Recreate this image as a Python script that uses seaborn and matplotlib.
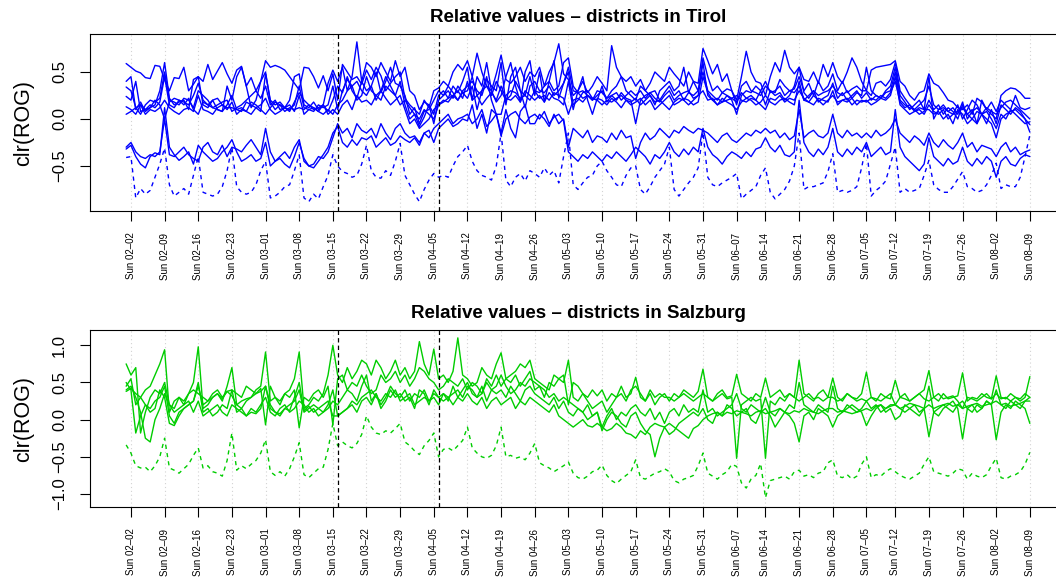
import numpy as np
import pandas as pd
import matplotlib
matplotlib.use("Agg")
import matplotlib.pyplot as plt
import seaborn as sns

# ---------------- data ----------------
first_day = "2020-02-01"
last_day = "2020-08-09"
missing_days = ["2020-06-11", "2020-07-08"]
lockdown_days = ["2020-03-16", "2020-04-06"]

titles = ["Relative values \u2013 districts in Tirol",
          "Relative values \u2013 districts in Salzburg"]
y_label = "clr(ROG)"
tirol_yticks = [-0.5, 0.0, 0.5]
tirol_yticklabels = ["\u22120.5", "0.0", "0.5"]
salzburg_yticks = [-1.0, -0.5, 0.0, 0.5, 1.0]
salzburg_yticklabels = ["\u22121.0", "\u22120.5", "0.0", "0.5", "1.0"]

# values in hundredths of clr units, one line per week (Sun..Sat)
tirol_1 = [59,
 55, 51, 49, 44, 43, 57, 56,
 42, 30, 44, 43, 55, 30, 37,
 45, 40, 58, 42, 51, 60, 48,
 38, 52, 56, 35, 44, 30, 40,
 62, 55, 57, 55, 52, 45, 38,
 31, 55, 54, 45, 33, 46, 30,
 48, 20, 58, 50, 42, 45, 37,
 52, 42, 55, 46, 30, 38, 45,
 50, 22, 15, 10, 5, 20, 12,
 30, 33, 40, 35, 50, 58, 52,
 62, 45, 70, 50, 35, 30, 48,
 68, 42, 38, 45, 55, 40, 50,
 45, 55, 35, 50, 60, 80, 48,
 42, 25, 30, 40, 28, 35, 45,
 38, 30, 78, 55, 45, 40, 45,
 35, 42, 30, 38, 50, 45, 40,
 55, 48, 42, 35, 50, 40, 38,
 75, 62, 48, 58, 40, 48, 30,
 20, 45, 72, 50, 40, 38,
 25, 45, 60, 50, 73, 55, 48,
 55, 42, 40, 50, 38, 58, 45,
 60, 45, 38, 50, 65, 55, 40,
 30, 52, 55, 56, 57, 58,
 62, 40, 35, 25, 20, 28, 30,
 48, 38, 35, 28, 20, 18, 12,
 10, 15, 5, 22, 18, 10, 5,
 0, 25, 30, 33, 32, 28, 22,
 22]
tirol_2 = [40,
 45, 10, 18, 8, 12, 15, 30,
 60, 22, 15, 18, 20, 10, 42,
 45, 15, 12, 20, 10, 8, 35,
 20, 45, 55, 35, 12, 20, 40,
 50, 18, 10, 15, 12, 20, 45,
 48, 15, 12, 18, 10, 15, 38,
 52, 40, 55, 30, 45, 82, 40,
 60, 55, 45, 60, 50, 40, 62,
 45, 55, 30, 25, 10, 18, 15,
 5, 25, 30, 22, 35, 28, 40,
 55, 20, 45, 35, 60, 30, 18,
 25, 45, 60, 35, 18, 50, 62,
 30, 28, 35, 40, 30, 35, 60,
 65, 35, 28, 30, 25, 20, 30,
 28, 22, 30, 35, 45, 30, 25,
 20, 35, 30, 25, 15, 30, 35,
 40, 30, 35, 55, 28, 40, 30,
 65, 45, 30, 35, 28, 32, 30,
 15, 35, 40, 30, 28, 25,
 35, 30, 28, 42, 35, 30, 32,
 45, 30, 38, 25, 40, 30, 35,
 48, 30, 40, 28, 32, 35, 30,
 30, 25, 38, 40, 35, 42,
 60, 30, 22, 15, 10, 5, 8,
 20, 10, 15, 5, 12, 8, 0,
 15, 5, 10, -5, 20, 10, 18,
 8, 20, 15, 10, 25, 12, 10,
 12]
tirol_3 = [34,
 30, 12, 5, 15, 20, 18, 22,
 50, 20, 18, 15, 22, 20, 12,
 30, 25, 20, 12, 15, 18, 20,
 8, 12, 15, 20, 25, 30, 22,
 35, 15, 20, 10, 12, 8, 18,
 28, 20, 15, 10, 12, 15, 8,
 20, 35, 28, 45, 30, 22, 40,
 30, 35, 50, 28, 40, 55, 38,
 35, 25, 5, 12, -5, 8, 10,
 20, 30, 25, 35, 28, 20, 30,
 35, 40, 30, 25, 42, 35, 30,
 60, 15, 45, 55, 30, 12, 35,
 40, 30, 28, 35, 25, 30, 38,
 55, 30, 28, 22, 25, 20, 25,
 30, 22, 25, 28, 20, 25, 30,
 25, 30, 22, 28, 30, 20, 28,
 35, 25, 30, 20, 28, 25, 30,
 50, 30, 25, 20, 28, 25, 22,
 18, 28, 22, 25, 20, 30,
 15, 30, 25, 28, 20, 25, 35,
 55, 28, 22, 30, 25, 28, 30,
 35, 28, 25, 30, 22, 28, 25,
 55, 30, 25, 22, 28, 30,
 50, 20, 15, 12, 10, 15, 20,
 35, 15, 10, 12, 8, 5, 15,
 0, 10, 20, 15, 5, 12, 8,
 5, 12, 18, 20, 15, 10, 5,
 0]
tirol_4 = [24,
 20, 40, 8, 10, 15, 12, 18,
 45, 15, 12, 20, 18, 15, 25,
 38, 20, 15, 12, 10, 8, 15,
 25, 10, 8, 18, 15, 12, 8,
 48, 20, 15, 18, 12, 10, 15,
 35, 12, 10, 8, 15, 12, 15,
 35, 10, 30, 42, 35, 20, 25,
 45, 30, 25, 20, 35, 30, 25,
 40, 15, 0, 5, -8, 2, 15,
 -5, 20, 25, 30, 22, 35, 28,
 30, 45, 25, 30, 35, 25, 40,
 30, 20, 25, 40, 30, 25, 45,
 25, 50, 18, 40, 62, 22, 38,
 50, 15, 20, 28, 30, 22, 20,
 35, 18, 25, 20, 28, 22, 20,
 -5, 20, 25, 28, 22, 18, 25,
 30, 20, 25, 28, 30, 22, 25,
 60, 25, 20, 22, 18, 25, 20,
 5, 25, 30, 28, 35, 30,
 40, 28, 30, 35, 25, 30, 28,
 35, 20, 25, 30, 18, 22, 25,
 38, 22, 28, 20, 25, 30, 22,
 28, 20, 25, 22, 30, 35,
 55, 25, 18, 10, 15, 20, 10,
 45, 0, 10, 15, 8, 12, 5,
 18, 0, 8, 12, 5, -5, 10,
 -5, 15, 10, 5, 12, 8, 0,
 -6]
tirol_5 = [13,
 10, 5, 15, 10, 12, 20, 15,
 0, 18, 22, 20, 15, 22, 10,
 5, 18, 15, 20, 22, 15, 12,
 12, 10, 12, 8, 18, 15, 10,
 5, 12, 18, 15, 8, 12, 10,
 12, 10, 15, 12, 8, 5, 10,
 5, 15, 20, 30, 35, 40, 30,
 25, 35, 20, 30, 45, 35, 25,
 15, 20, 12, 5, 0, 10, 5,
 0, 15, 18, 22, 25, 20, 28,
 22, 35, 10, 30, 45, 20, 5,
 5, 25, 30, 28, 22, 25, 20,
 30, 22, 25, 20, 28, 25, 22,
 5, 20, 22, 18, 25, 22, 20,
 15, 20, 18, 22, 25, 20, 18,
 22, 15, 20, 25, 18, 20, 15,
 10, 18, 22, 20, 15, 20, 25,
 30, 20, 22, 15, 18, 20, 22,
 25, 20, 18, 22, 20, 15,
 10, 22, 20, 25, 18, 22, 20,
 30, 22, 18, 25, 20, 15, 20,
 25, 18, 20, 22, 15, 20, 18,
 20, 15, 18, 22, 20, 25,
 45, 15, 10, 5, 8, 12, 10,
 10, 5, 8, 0, 5, -5, 10,
 5, -5, 0, 8, 5, 0, -5,
 -20, 0, 5, 8, 10, 5, 0,
 -14]
tirol_6 = [5,
 8, 12, 15, 5, 10, 8, 12,
 20, 12, 8, 5, 10, 12, 8,
 25, 10, 8, 5, 12, 15, 10,
 18, 5, 10, 8, 5, 12, 15,
 22, 10, 5, 8, 12, 15, 8,
 25, 5, 10, 12, 8, 15, 5,
 10, 5, 15, 20, 10, 25, 18,
 20, 15, 25, 30, 22, 15, 20,
 25, 10, -5, 0, -10, -5, 0,
 10, 15, 20, 18, 25, 30, 22,
 40, 20, 25, 15, 22, 28, 20,
 35, 22, 20, 25, 18, 30, 25,
 20, 25, 18, 28, 22, 20, 15,
 40, 10, 30, 45, 20, 5, 22,
 20, 15, 22, 18, 12, 20, 15,
 18, 22, 15, 20, 10, 15, 20,
 25, 15, 18, 22, 20, 15, 18,
 45, 28, 20, 15, 22, 18, 15,
 10, 18, 22, 20, 15, 18,
 25, 18, 15, 20, 22, 18, 15,
 40, 20, 18, 15, 22, 20, 18,
 30, 15, 20, 18, 22, 15, 20,
 18, 22, 20, 25, 22, 28,
 40, 18, 12, 15, 8, 10, 5,
 15, 8, 5, 10, 0, 5, 8,
 12, 5, 0, -5, 5, 8, 0,
 -10, 5, 0, 10, 5, 0, -5,
 -3]
tirol_7 = [-30,
 -25, -35, -40, -42, -38, -40, -35,
 0, -38, -40, -35, -30, -38, -42,
 -45, -30, -25, -35, -38, -28, -40,
 -30, -32, -35, -28, -22, -30, -38,
 -10, -35, -45, -40, -35, -42, -30,
 -22, -45, -50, -48, -40, -42, -35,
 -20, -5, -15, -10, -20, -5, -12,
 -15, -10, -20, -5, -15, -22, -10,
 -5, -15, -20, -18, -25, -15, -20,
 -10, -5, 0, 5, -5, 0, 2,
 5, -5, 0, 10, -8, -2, 5,
 -15, 10, -10, -20, 8, 15, -5,
 -5, 5, 0, -8, 5, -5, 0,
 -30, -10, -15, -20, -12, -25, -18,
 -20, -25, -15, -22, -12, -20, -18,
 -42, -25, -15, -22, -18, -10, -15,
 -20, -12, -15, -8, -12, -15, -10,
 -12, -15, -20, -25, -18, -15, -22,
 -25, -20, -15, -18, -12, -15,
 -10, -15, -12, -20, -15, -22, -18,
 10, -20, -15, -12, -18, -20, -15,
 5, -15, -20, -12, -18, -15, -20,
 -15, -20, -12, -18, -15, -10,
 0, -15, -20, -25, -18, -22, -28,
 -15, -25, -30, -22, -28, -32, -25,
 -15, -30, -25, -35, -28, -30, -32,
 -40, -30, -25, -35, -30, -38, -35,
 -33]
tirol_8 = [-32,
 -28, -40, -48, -52, -40, -36, -38,
 12, -30, -38, -44, -40, -35, -48,
 -28, -35, -40, -45, -42, -35, -30,
 -22, -35, -45, -42, -38, -45, -42,
 -25, -50, -45, -42, -48, -52, -40,
 -25, -42, -50, -52, -45, -38, -30,
 -15, -8, -25, -30, -22, -28, -20,
 -22, -18, -30, -25, -20, -28, -25,
 -18, -22, -25, -20, -28, -15, -12,
 -25, -10, -5, 0, -8, -5, 0,
 -2, 15, -10, 5, -15, 10, 5,
 -18, 0, 5, 8, 0, -5, 2,
 5, 0, 8, -5, 2, 5, -2,
 -35, -40, -45, -38, -42, -35, -40,
 -45, -38, -42, -35, -40, -45, -38,
 -30, -35, -40, -48, -38, -42, -35,
 -25, -35, -40, -32, -38, -30, -35,
 -10, -30, -38, -42, -48, -40, -35,
 -38, -42, -35, -40, -32, -30,
 -20, -30, -35, -28, -38, -40, -35,
 20, -25, -35, -40, -32, -38, -30,
 -10, -35, -40, -32, -38, -30, -35,
 -25, -40, -35, -30, -38, -35,
 10, -30, -40, -45, -50, -55, -48,
 -20, -40, -45, -50, -42, -48, -45,
 -30, -45, -50, -42, -48, -40, -45,
 -62, -45, -40, -48, -50, -42, -38,
 -40]
tirol_city = [-41,
 -40, -84, -74, -80, -76, -62, -48,
 -31, -70, -82, -78, -74, -80, -60,
 -40, -78, -80, -82, -80, -72, -55,
 -30, -72, -78, -80, -78, -70, -55,
 -45, -84, -82, -78, -72, -70, -55,
 -38, -84, -88, -80, -85, -72, -60,
 -38, -50, -56, -58, -62, -60, -48,
 -28, -55, -62, -63, -55, -60, -45,
 -26, -60, -70, -80, -88, -75, -65,
 -58, -62, -60, -62, -50, -40, -35,
 -28, -45, -55, -60, -62, -65, -50,
 -15, -65, -72, -62, -58, -66, -55,
 -58, -62, -52, -60, -55, -68, -40,
 -15, -70, -75, -68, -62, -60, -50,
 -45, -55, -62, -70, -72, -60, -52,
 -50, -75, -80, -72, -62, -55, -48,
 -30, -75, -82, -75, -68, -62, -52,
 -14, -62, -70, -72, -68, -65, -62,
 -58, -85, -80, -76, -72, -60,
 -52, -78, -85, -80, -75, -66, -50,
 -15, -75, -72, -72, -70, -68, -56,
 -37, -78, -76, -78, -76, -72, -52,
 -26, -82, -76, -72, -66, -48,
 -30, -78, -74, -78, -76, -74, -60,
 -44, -70, -75, -78, -78, -72, -64,
 -56, -72, -74, -78, -76, -70, -60,
 -47, -74, -70, -72, -72, -62, -40,
 -17]

salzburg_1 = [45,
 55, 20, 30, 40, 45, 60, 75,
 94, 10, 25, 30, 20, 35, 50,
 98, 15, 20, 30, 35, 25, 45,
 70, 20, 15, 25, 30, 40, 45,
 91, 25, 30, 20, 35, 40, 55,
 91, 15, 20, 30, 25, 35, 60,
 100, 60, 50, 70, 55, 65, 80,
 75, 60, 80, 70, 55, 65, 80,
 60, 70, 55, 65, 105, 75, 60,
 95, 55, 60, 50, 65, 110, 60,
 55, 45, 50, 70, 60, 55, 75,
 90, 55, 60, 65, 75, 70, 80,
 55, 50, 45, 40, 60, 55, 50,
 80, 30, 25, 35, 30, 40, 32,
 40, 25, 35, 30, 45, 30, 35,
 57, 30, 25, 35, 20, 30, 35,
 25, 35, 30, 40, 35, 30, 38,
 68, 30, 25, 35, 40, 30, 32,
 61, 35, 30, 25, 35, 30,
 56, 30, 35, 40, 30, 35, 30,
 80, 35, 30, 25, 35, 40, 30,
 56, 30, 25, 35, 30, 28, 35,
 64, 30, 25, 35, 30, 28,
 53, 30, 35, 25, 30, 35, 40,
 66, 30, 25, 35, 28, 30, 32,
 63, 25, 30, 28, 35, 30, 28,
 59, 30, 28, 35, 30, 25, 30,
 58]
salzburg_2 = [75,
 60, 70, -18, 10, 30, 40, 35,
 50, 20, 15, 30, 25, 35, 40,
 35, 30, 25, 35, 40, 30, 38,
 40, 35, 30, 45, 40, 35, 42,
 -7, 45, 30, 25, 35, 30, 40,
 -11, 30, 25, 35, 40, 30, 45,
 -7, 55, 60, 40, 50, 45, 60,
 45, 35, 40, 60, 50, 55, 65,
 50, 60, 45, 55, 70, 65, 55,
 50, 40, 45, 55, 50, 45, 55,
 40, 50, 45, 35, 55, 45, 60,
 45, 55, 50, 60, 45, 55, 65,
 40, 45, 30, 50, 45, 55, 60,
 20, 50, 45, 35, 25, 15, 20,
 25, 10, 20, 30, 35, 25, 40,
 45, 35, 25, 40, 30, 35, 30,
 30, 25, 30, 35, 30, 25, 30,
 35, 30, 25, 30, 35, 28, 30,
 -52, 20, 25, 30, 25, 28,
 -52, 25, 20, 30, 25, 35, 30,
 25, 30, 35, 28, 30, 25, 30,
 30, 25, 28, 35, 30, 25, 28,
 25, 30, 28, 25, 30, 35,
 20, 30, 28, 25, 30, 35, 28,
 25, 30, 35, 28, 30, 32, 25,
 15, 30, 28, 25, 30, 35, 28,
 35, 28, 30, 25, 30, 28, 35,
 30]
salzburg_3 = [50,
 40, -18, 5, 20, 15, 25, 30,
 45, 5, -5, 10, 15, 20, 25,
 50, 10, 15, 5, 10, 20, 15,
 40, 10, 15, 5, 10, 8, 15,
 45, 15, 10, 8, 15, 20, 25,
 40, 10, 15, 20, 15, 10, 20,
 40, 5, 10, 15, 20, 10, 25,
 30, 20, 35, 15, 25, 40, 30,
 35, 25, 30, 15, 40, 35, 20,
 40, 30, 35, 25, 45, 30, 40,
 50, 35, 30, 45, 25, 40, 35,
 40, 30, 45, 35, 25, 40, 45,
 35, 30, 25, 20, 30, 15, 25,
 10, 5, 15, 10, 0, 5, 10,
 -10, 5, 15, 0, 10, 5, 15,
 20, 10, 5, 15, 0, 10, -5,
 10, 15, 5, 20, 10, 15, 10,
 40, 10, 15, 5, 10, 15, 20,
 35, 15, 10, 20, 15, 10,
 30, 10, 5, 15, 10, 20, 15,
 50, 20, 15, 10, 20, 15, 10,
 45, 15, 10, 20, 15, 10, 15,
 25, 15, 20, 10, 15, 20,
 20, 15, 10, 15, 20, 10, 15,
 45, 10, 15, 20, 15, 10, 20,
 25, 15, 10, 20, 15, 25, 20,
 40, 20, 15, 25, 20, 15, 25,
 30]
salzburg_4 = [40,
 45, 30, 10, -25, -30, 0, 15,
 35, 20, 10, 15, 20, 25, 10,
 25, 5, 10, 15, 20, 10, 5,
 20, 15, 10, 5, 15, 10, 20,
 30, 10, 5, 15, 20, 10, 15,
 25, 20, 10, 15, 5, 10, 15,
 25, 20, 30, 40, 35, 25, 45,
 60, 25, 35, 20, 30, 45, 35,
 30, 40, 25, 35, 30, 40, 25,
 30, 20, 35, 30, 20, 30, 25,
 35, 25, 20, 30, 15, 25, 30,
 20, 25, 30, 15, 25, 20, 30,
 25, 20, 15, 10, 20, 5, 0,
 -5, -10, -5, 0, -8, -10, -5,
 -10, -15, -12, -5, -10, -18, -20,
 -25, -15, -20, -10, -5, -8, -10,
 -5, -10, -15, -20, -25, -12, -8,
 0, 5, 8, 10, 5, 10, 8,
 12, 10, 8, 5, 10, 12,
 8, 10, 12, 15, 10, 8, 12,
 10, 15, 12, 10, 8, 12, 15,
 15, 10, 12, 10, 8, 10, 12,
 15, 12, 18, 20, 15, 18,
 20, 15, 18, 22, 20, 18, 15,
 20, 15, 18, 20, 22, 18, 20,
 15, 18, 20, 22, 18, 20, 22,
 25, 20, 22, 18, 20, 22, 25,
 25]
salzburg_5 = [38,
 42, 35, 30, 20, 10, 15, 40,
 30, -5, -8, 5, 15, 20, 25,
 45, 20, 25, 30, 35, 28, 38,
 32, 20, 25, 28, 30, 35, 38,
 45, 20, 10, 5, 15, 12, 30,
 50, 12, 18, 10, 15, 20, 25,
 5, 5, 10, 15, 25, 20, 30,
 35, 40, 30, 25, 35, 30, 40,
 25, 30, 35, 20, 25, 30, 25,
 35, 30, 25, 30, 35, 40, 30,
 45, 40, 30, 35, 50, 40, 45,
 60, 45, 35, 40, 50, 45, 55,
 50, 45, 40, 30, 35, 25, 30,
 25, 20, 15, 10, 20, 5, 10,
 -15, 0, 10, 5, -5, -10, 5,
 10, -5, -15, -20, -50, -25, -10,
 -20, -15, -5, 0, 5, 10, 5,
 15, 0, -5, 10, 5, 20, 15,
 5, 10, 15, 0, -5, 10,
 15, 5, -10, 0, 10, 5, -5,
 -30, 5, 10, 0, 15, 10, 5,
 -10, 5, 10, 15, 20, 15, 10,
 -8, 5, 15, 20, 10, 15,
 0, 5, 20, 15, 10, 5, 15,
 -23, 10, 5, 15, 20, 25, 15,
 -26, 15, 20, 10, 15, 25, 20,
 -27, 10, 20, 15, 25, 20, 15,
 -5]
salzburg_city = [-34,
 -45, -62, -65, -64, -70, -62, -50,
 -25, -65, -68, -72, -66, -60, -48,
 -38, -65, -62, -70, -72, -76, -55,
 -18, -68, -62, -66, -60, -55, -45,
 -27, -70, -75, -70, -76, -66, -50,
 -31, -74, -78, -72, -66, -64, -40,
 -5, -35, -30, -35, -38, -32, -20,
 5, -10, -18, -20, -15, -18, -12,
 -5, -30, -35, -42, -47, -35, -28,
 -18, -50, -40, -38, -42, -35, -28,
 -10, -38, -45, -50, -52, -48, -35,
 -10, -50, -48, -52, -50, -54, -45,
 -32, -58, -62, -65, -70, -66, -62,
 -57, -72, -78, -80, -76, -70, -68,
 -61, -75, -82, -86, -80, -75, -70,
 -54, -78, -80, -76, -72, -70, -66,
 -70, -82, -85, -80, -78, -75, -62,
 -45, -72, -76, -80, -74, -70, -60,
 -63, -85, -92, -80, -75, -59,
 -105, -82, -80, -78, -76, -80, -70,
 -68, -76, -74, -78, -72, -70, -58,
 -54, -76, -78, -74, -80, -76, -60,
 -50, -78, -74, -76, -70, -66,
 -70, -75, -78, -80, -76, -72, -60,
 -50, -70, -72, -74, -76, -72, -66,
 -68, -80, -72, -76, -78, -74, -62,
 -52, -78, -80, -76, -74, -70, -60,
 -44]

# ---------------- build ----------------
dates = pd.date_range(first_day, last_day, freq="D")
dates = dates[~dates.isin(pd.to_datetime(missing_days))]
n = len(dates)
pos = np.arange(n)

tirol_solid = [tirol_1, tirol_2, tirol_3, tirol_4, tirol_5, tirol_6, tirol_7, tirol_8]
salz_solid = [salzburg_1, salzburg_2, salzburg_3, salzburg_4, salzburg_5]
for s in tirol_solid + salz_solid + [tirol_city, salzburg_city]:
    assert len(s) == n, len(s)

sundays = np.where(dates.dayofweek == 6)[0]
sunday_labels = ["Sun " + d.strftime("%m\u2013%d") for d in dates[sundays]]
lock_pos = [int(np.where(dates == pd.Timestamp(d))[0][0]) for d in lockdown_days]

sns.set_theme(style="white")
plt.rcParams["font.family"] = ["Liberation Sans", "DejaVu Sans"]
plt.rcParams.update({"text.color": "black", "axes.labelcolor": "black",
                     "xtick.color": "black", "ytick.color": "black",
                     "axes.edgecolor": "black"})

W, H = 1056, 578
fig = plt.figure(figsize=(W / 100, H / 100), dpi=100)
left = 90 / W
width = (1066 - 90) / W
ax1 = fig.add_axes([left, 1 - 211 / H, width, 177 / H])
ax2 = fig.add_axes([left, 1 - 507 / H, width, 177 / H])

panels = [
    (ax1, tirol_solid, tirol_city, "#0000FF", (-0.979, 0.904), tirol_yticks, tirol_yticklabels, titles[0]),
    (ax2, salz_solid, salzburg_city, "#00CD00", (-1.175, 1.206), salzburg_yticks, salzburg_yticklabels, titles[1]),
]

for ax, solids, city, col, ylim, yt, ytl, title in panels:
    ax.set_facecolor("white")
    for xp in sundays:
        ax.axvline(xp, color="#D3D3D3", lw=0.8, ls=(0, (1, 2.5)), zorder=0)
    for s in solids:
        sns.lineplot(x=pos, y=np.array(s) / 100.0, ax=ax, color=col, linewidth=1.0,
                     estimator=None, errorbar=None, zorder=2)
    sns.lineplot(x=pos, y=np.array(city) / 100.0, ax=ax, color=col, linewidth=1.0,
                 estimator=None, errorbar=None, zorder=2)
    ax.lines[-1].set_dashes((3, 3))
    for lp in lock_pos:
        ax.axvline(lp, color="black", lw=0.9, dashes=(3.5, 2.5), zorder=3)
    ax.set_xlim(-0.04 * (n - 1), (n - 1) * 1.04)
    ax.set_ylim(*ylim)
    ax.set_xticks(sundays)
    ax.set_xticklabels(sunday_labels, rotation=90, fontsize=7)
    ax.set_yticks(yt)
    ax.set_yticklabels(ytl, fontsize=12)
    for lab in ax.get_yticklabels():
        lab.set_rotation(90)
        lab.set_va("center")
        lab.set_ha("right")
    ax.tick_params(axis="x", bottom=True, length=7.5, width=0.8, pad=8, direction="out")
    ax.tick_params(axis="y", left=True, length=7.5, width=0.8, pad=9, direction="out")
    ax.set_xlabel("")
    ax.set_ylabel("")
    for sp in ax.spines.values():
        sp.set_visible(True)
        sp.set_color("black")
        sp.set_linewidth(0.8)
    ax.set_title(title, fontsize=13.5, fontweight="bold", pad=8.5)
    ax.grid(False)

for ax in (ax1, ax2):
    bb = ax.get_position()
    fig.text(24 / W, bb.y0 + bb.height / 2, y_label, rotation=90, fontsize=15.5,
             ha="center", va="center")

fig.savefig("out.png", dpi=100)
